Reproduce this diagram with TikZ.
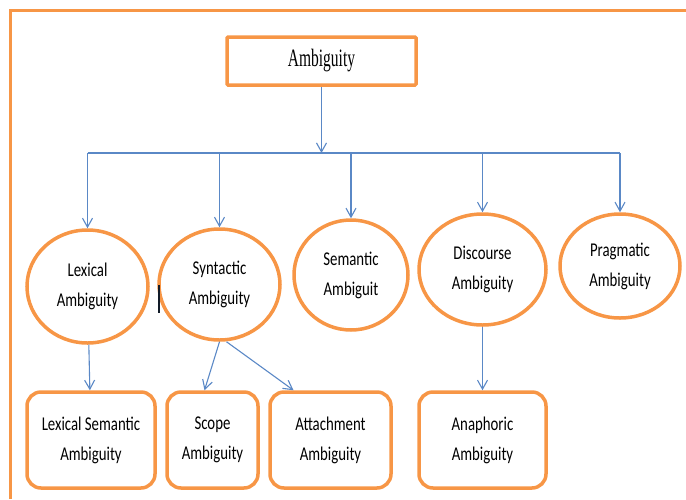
\documentclass[tikz,border=0pt]{standalone}
\usepackage{fontspec}
\setmainfont[FakeStretch=0.76]{Carlito}
\newfontfamily\headfont[FakeStretch=0.62]{Liberation Serif}
\usetikzlibrary{shapes.geometric,arrows.meta}
\definecolor{AmbOrange}{HTML}{F79646}
\definecolor{AmbBlue}{HTML}{5A88C6}
\tikzset{
  ambnode/.style={draw=AmbOrange, line width=3.5pt, align=center, inner sep=0pt,
    font=\fontsize{19.5}{30}\selectfont},
  ambell/.style={ambnode, ellipse},
  ambbox/.style={ambnode, rectangle, rounded corners=14pt, minimum height=96pt},
  amblink/.style={draw=AmbBlue, line width=1.1pt, -{Straight Barb[length=9pt,width=10pt]}}
}

\begin{document}
\begin{tikzpicture}[x=1pt,y=-1pt]
   \useasboundingbox (0,0) rectangle (686,499);
   \draw[AmbOrange, line width=3pt] (10.5,499) -- (10.5,10.5) -- (686,10.5);

   \node[ambnode, rounded corners=1pt, minimum width=189pt, minimum height=48pt,
     font=\headfont\fontsize{25}{30}\selectfont] (Amb) at (321.5,61) {Ambiguity};

   \foreach \x/\y/\w/\h/\name/\txt in {87.5/286.5/121/113/Lex/{Lexical\\Ambiguity},
     219.5/284.5/121/111/Syn/{Syntactic\\Ambiguity},351/275/114/110/Sem/{Semantic\\Ambiguit},
     482.5/269.5/127/111/Dis/{Discourse\\Ambiguity},620/266/120/104/Pra/{Pragmatic\\Ambiguity}} {
    \node[ambell, minimum width=\w pt, minimum height=\h pt] (\name) at (\x,\y) {\txt};
   }
   \foreach \x/\w/\name/\txt in {91/128/LexSem/{Lexical Semantic\\Ambiguity},
     212.5/91/Sco/{Scope\\Ambiguity},330.5/121/Att/{Attachment\\Ambiguity},
     482.5/127/Ana/{Anaphoric\\Ambiguity}} {
    \node[ambbox, minimum width=\w pt] (\name) at (\x,440) {\txt};
   }

   \coordinate (bus) at (0,153);
   \draw[AmbBlue, line width=1.1pt] (Lex |- bus) -- (Pra |- bus);
   \draw[amblink] (Amb) -- (Amb |- bus);
   \foreach \name in {Lex,Syn,Sem,Dis,Pra} {
    \draw[amblink] (\name |- bus) -- (\name);
   }
   \draw[amblink] (Lex) -- (LexSem);
   \draw[amblink] (Syn.south) -- ([xshift=-8pt]Sco.north);
   \draw[amblink] ([xshift=7pt]Syn.south) -- ([xshift=-37pt]Att.north);
   \draw[amblink] (Dis) -- (Ana);

   \draw[line width=2pt, black!80!AmbBlue] (159,285) -- (159,313);
  \end{tikzpicture}
\end{document}
